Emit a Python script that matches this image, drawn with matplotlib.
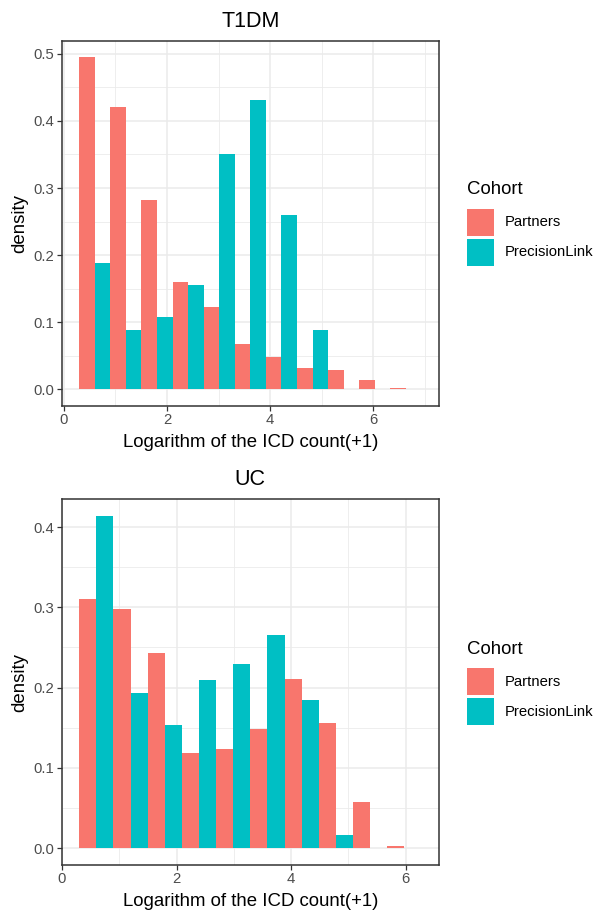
import numpy as np
import matplotlib
matplotlib.use("Agg")
import matplotlib.pyplot as plt
from matplotlib.patches import Rectangle
from matplotlib.ticker import MultipleLocator

plt.rcParams['font.family'] = ['Liberation Sans', 'DejaVu Sans']

# Histogram densities per bin (Partners / PrecisionLink), dodged within each bin
cohorts = ["Partners", "PrecisionLink"]
colors = ["#F8766D", "#00BFC4"]

t1dm_start, t1dm_binwidth = 0.30, 0.603
t1dm_partners = [0.495, 0.421, 0.282, 0.160, 0.122, 0.067, 0.048, 0.031, 0.028, 0.0134, 0.0015]
t1dm_precision = [0.188, 0.088, 0.107, 0.155, 0.351, 0.431, 0.260, 0.088, 0.0, 0.0, 0.0]

uc_start, uc_binwidth = 0.30, 0.598
uc_partners = [0.310, 0.298, 0.243, 0.119, 0.123, 0.148, 0.211, 0.156, 0.058, 0.002]
uc_precision = [0.414, 0.193, 0.153, 0.209, 0.229, 0.265, 0.185, 0.016, 0.0, 0.0]

W, H = 599, 915
fig = plt.figure(figsize=(W / 100, H / 100), dpi=100)

BASE = 13.4
SMALL = 10.7


def px_axes(left, top, right, bottom):
    return fig.add_axes([left / W, 1 - bottom / H, (right - left) / W, (bottom - top) / H])


def draw_panel(ax, title, start, bw, series, yticks, xticks):
    n = len(series[0])
    edges = start + bw * np.arange(n + 1)
    for k, (vals, col) in enumerate(zip(series, colors)):
        ax.bar(edges[:-1] + k * bw / 2, vals, width=bw / 2, align='edge',
               color=col, linewidth=0, zorder=3)
    lo, hi = edges[0], edges[-1]
    pad = 0.05 * (hi - lo)
    ax.set_xlim(lo - pad, hi + pad)
    ymax = max(max(s) for s in series)
    ax.set_ylim(-0.05 * ymax, 1.05 * ymax)
    ax.set_xticks(xticks)
    ax.set_xticklabels([str(t) for t in xticks])
    ax.set_yticks(yticks)
    ax.set_yticklabels([f"{t:.1f}" for t in yticks])
    ax.xaxis.set_minor_locator(MultipleLocator(1))
    ax.yaxis.set_minor_locator(MultipleLocator(0.05))
    ax.grid(which='major', color='#EBEBEB', linewidth=1.1, zorder=0)
    ax.grid(which='minor', color='#EBEBEB', linewidth=0.6, zorder=0)
    ax.set_axisbelow(True)
    for s in ax.spines.values():
        s.set_color('#333333')
        s.set_linewidth(1.1)
    ax.tick_params(which='major', length=3.5, width=0.9, color='#333333',
                   labelcolor='#4D4D4D', labelsize=SMALL, pad=2)
    ax.tick_params(which='minor', length=0)
    ax.set_title(title, fontsize=15.5, color='black', pad=10)
    ax.set_xlabel("Logarithm of the ICD count(+1)", fontsize=BASE, labelpad=4.5)
    ax.set_ylabel("density", fontsize=BASE, labelpad=3.5)


def draw_legend(x, y_title):
    fig.text(x / W, 1 - y_title / H, "Cohort", fontsize=BASE, va='center', ha='left')
    y0 = y_title + 19
    for i, (name, col) in enumerate(zip(cohorts, colors)):
        top = y0 + i * 30
        fig.patches.append(Rectangle((x / W, 1 - (top + 27) / H), 27 / W, 27 / H,
                                     transform=fig.transFigure, facecolor=col,
                                     edgecolor='none'))
        fig.text((x + 38.5) / W, 1 - (top + 13.5) / H, name, fontsize=SMALL,
                 va='center', ha='left')


ax1 = px_axes(62, 40.7, 438.7, 405.7)
draw_panel(ax1, "T1DM", t1dm_start, t1dm_binwidth, [t1dm_partners, t1dm_precision],
           [0.0, 0.1, 0.2, 0.3, 0.4, 0.5], [0, 2, 4, 6])
draw_legend(466.5, 190)

ax2 = px_axes(62, 499.3, 438.7, 864.7)
draw_panel(ax2, "UC", uc_start, uc_binwidth, [uc_partners, uc_precision],
           [0.0, 0.1, 0.2, 0.3, 0.4], [0, 2, 4, 6])
draw_legend(466.5, 649)

fig.savefig("out.png", dpi=100)
